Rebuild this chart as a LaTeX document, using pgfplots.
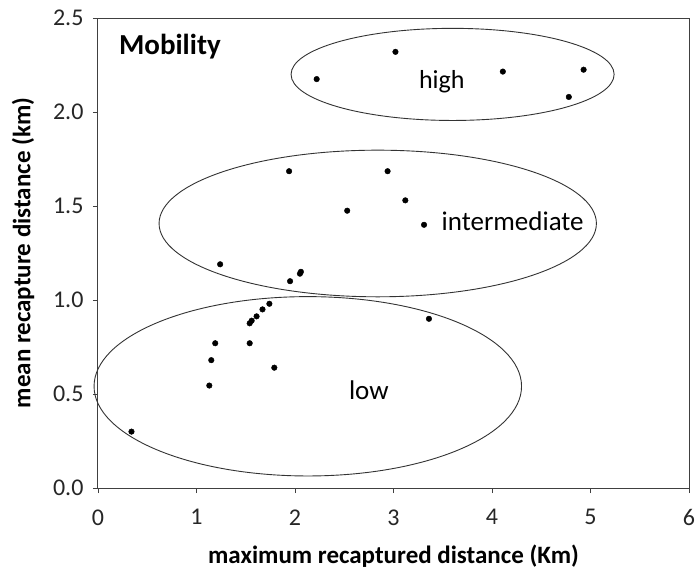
\documentclass[border=0pt]{standalone}
\usepackage{fontspec}
\setmainfont{Carlito}
\usepackage{pgfplots}
\pgfplotsset{compat=1.18}
\begin{document}
\begin{tikzpicture}
\useasboundingbox (-98pt,-86pt) rectangle (602pt,488pt);
\begin{axis}[
  at={(0pt,0pt)}, anchor=origin,
  scale only axis, width=591pt, height=470pt,
  xmin=0, xmax=6, ymin=0, ymax=2.5,
  xtick={0,1,2,3,4,5,6}, ytick={0,0.5,1,1.5,2,2.5},
  yticklabel style={/pgf/number format/fixed, /pgf/number format/fixed zerofill, /pgf/number format/precision=1},
  /pgf/number format/assume math mode=true,
  tick align=outside, xtick pos=bottom, ytick pos=left,
  major tick length=5pt,
  axis line style={black!75, line width=1pt},
  every tick/.style={black!75, line width=0.8pt},
  tick label style={font=\fontsize{24}{28}\selectfont, text=black!85},
  xticklabel style={yshift=-13pt},
  yticklabel style={xshift=-6pt},
  xlabel={\textbf{maximum recaptured distance (Km)}},
  ylabel={\textbf{mean recapture distance (km)}},
  label style={font=\fontsize{25}{30}\selectfont},
  xlabel style={yshift=-12pt},
  ylabel style={yshift=12pt},
  clip=false,
]
\addplot[only marks, mark=*, mark size=2.8pt, black] coordinates {
 (0.34,0.30) (1.13,0.545) (1.15,0.68) (1.19,0.77) (1.54,0.77)
 (1.54,0.876) (1.56,0.89) (1.61,0.913) (1.67,0.95) (1.74,0.98)
 (1.79,0.64) (1.95,1.10) (2.06,1.15) (2.05,1.14) (3.36,0.90)
 (1.94,1.685) (2.94,1.685) (3.12,1.53) (2.53,1.475) (3.31,1.40) (1.24,1.19)
 (2.22,2.175) (3.02,2.32) (4.11,2.215) (4.93,2.225) (4.78,2.08)
};
\draw[black!80, line width=0.9pt] (axis cs:3.60,2.20) ellipse [x radius=1.64, y radius=0.245];
\draw[black!80, line width=0.9pt] (axis cs:2.84,1.407) ellipse [x radius=2.22, y radius=0.39];
\draw[black!80, line width=0.9pt] (axis cs:2.13,0.541) ellipse [x radius=2.17, y radius=0.477];
\node[font=\fontsize{26}{30}\selectfont] at (axis cs:3.49,2.16) {high};
\node[font=\fontsize{27}{31}\selectfont] at (axis cs:4.21,1.42) {intermediate};
\node[font=\fontsize{27}{31}\selectfont] at (axis cs:2.75,0.52) {low};
\node[font=\fontsize{29}{34}\selectfont\bfseries] at (axis cs:0.73,2.35) {Mobility};
\end{axis}
\end{tikzpicture}
\end{document}
